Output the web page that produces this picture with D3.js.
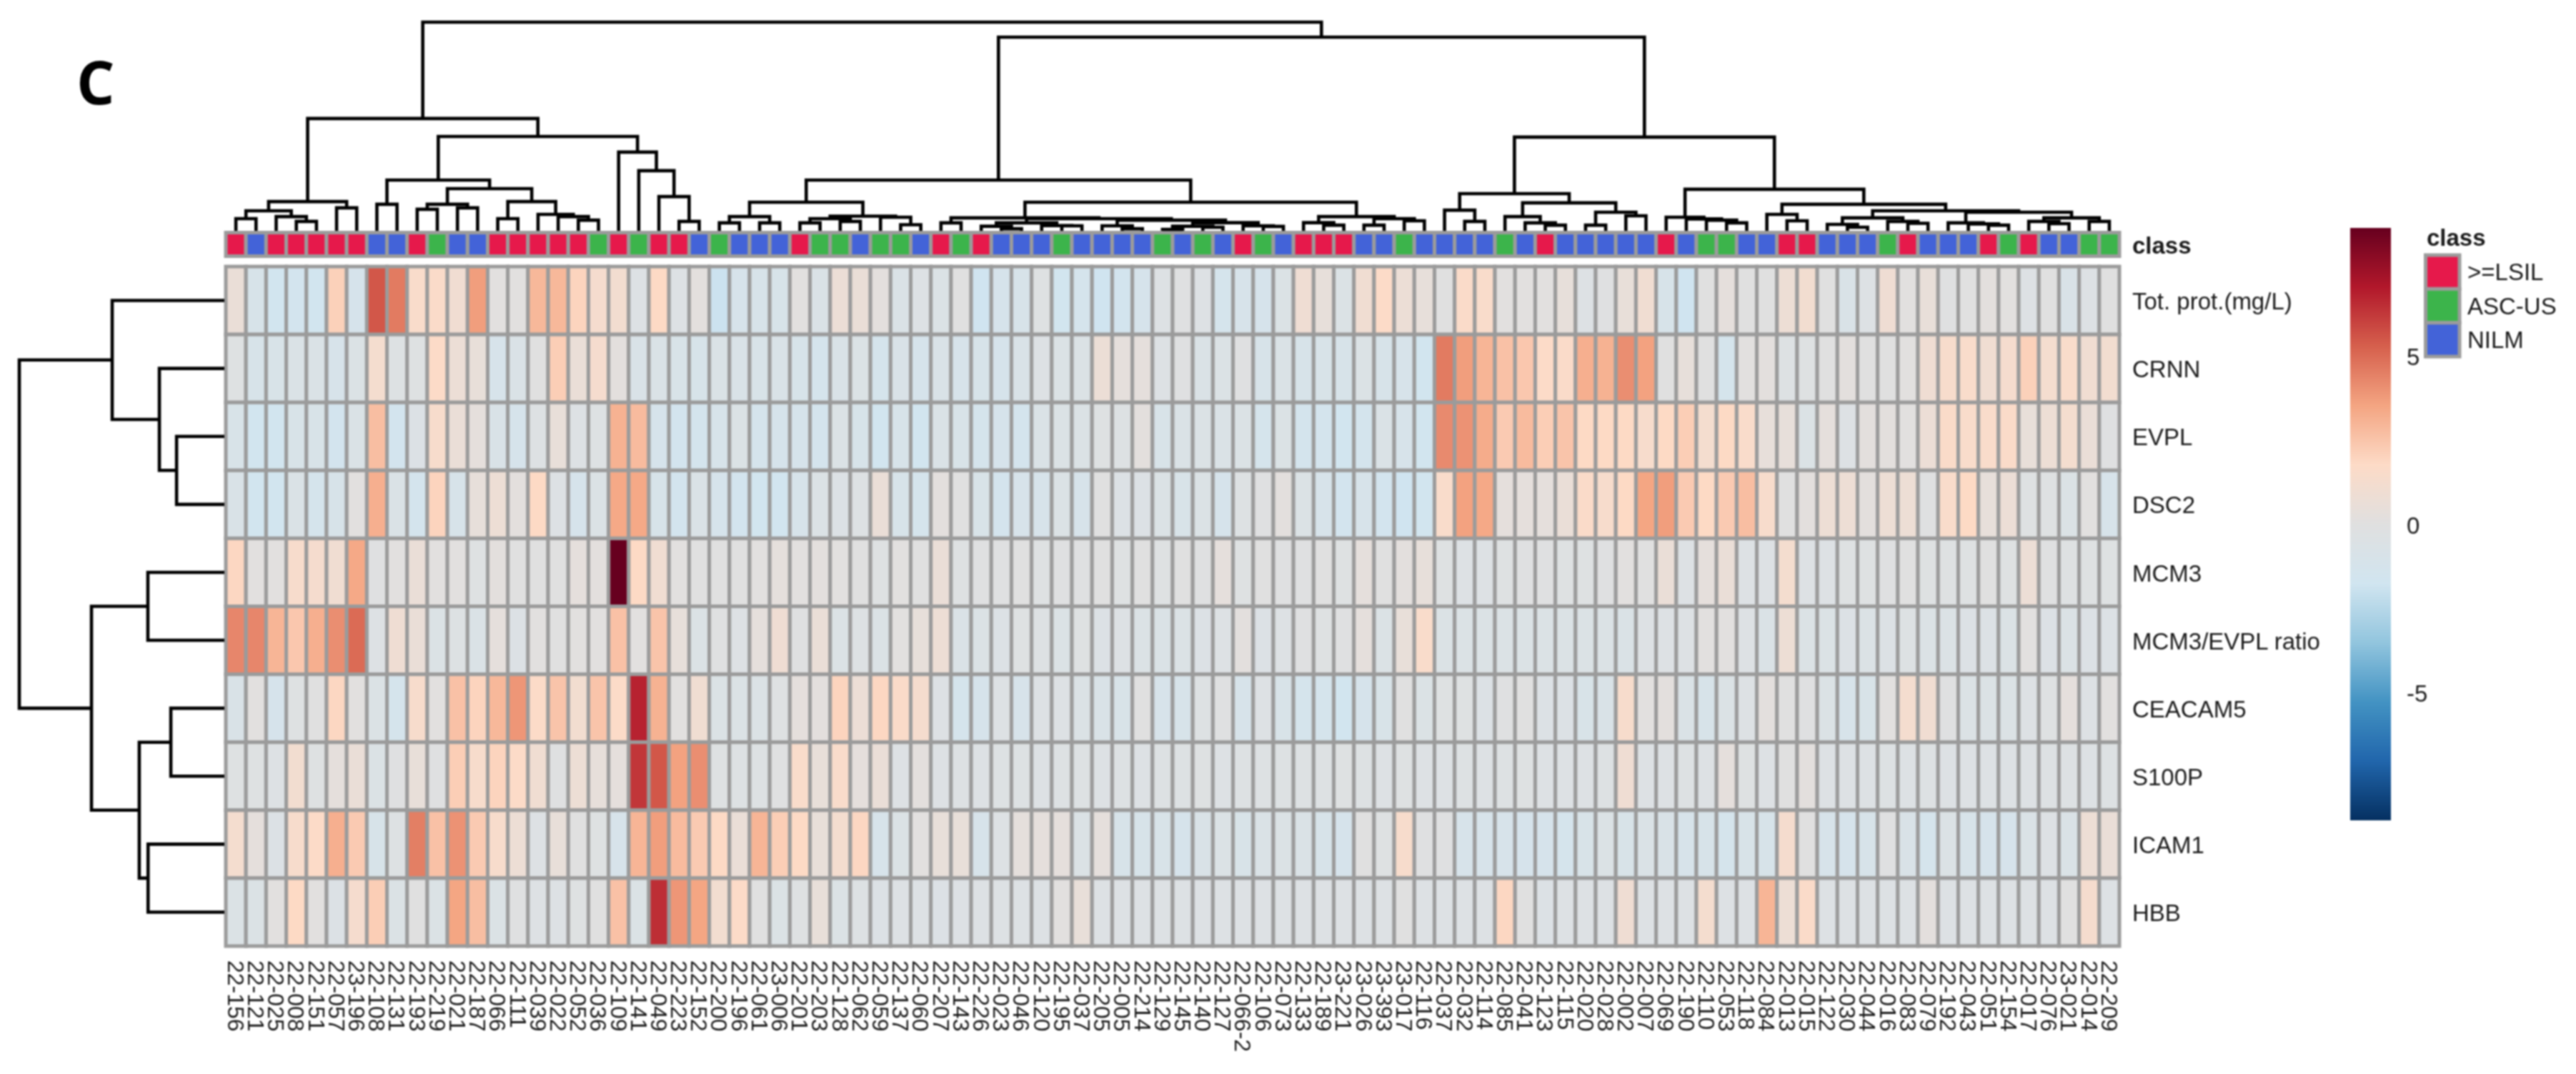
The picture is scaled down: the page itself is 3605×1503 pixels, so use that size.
<!DOCTYPE html>
<html><head><meta charset="utf-8">
<script src="https://cdn.jsdelivr.net/npm/d3@7/dist/d3.min.js"></script>
<style>
html,body{margin:0;padding:0;background:#fff}
svg{display:block;filter:blur(.8px)}
text{font-family:"Liberation Sans",Arial,sans-serif;fill:#1a1a1a}
</style></head><body>
<svg id="chart" width="3605" height="1503"></svg>
<script>
const samples=["22-156","22-121","22-025","22-008","22-151","22-057","23-196","22-108","22-131","22-193","22-219","22-021","22-187","22-066","22-111","22-039","22-022","22-052","22-036","22-109","22-141","22-049","22-223","22-152","22-200","22-196","22-061","23-006",
"22-201","22-203","22-128","22-062","22-059","22-137","22-060","22-207","22-143","22-226","22-023","22-046","22-120","22-195","22-037","22-205","22-005","22-214","22-129","22-145","22-140","22-127","22-066-2","22-106","22-073","22-133","22-189","23-221",
"23-026","23-393","23-017","22-116","22-037","22-032","22-114","22-085","22-041","22-123","22-115","22-020","22-028","22-002","22-007","22-069","22-190","22-110","22-053","22-118","22-084","22-013","22-015","22-122","22-030","22-044","22-016","22-083","22-079","22-192","22-043","22-051","22-154","22-017","22-076","23-021","22-014","22-209"];
const classes="LNLLLLLNNLANNLLLLLALALLNANNNLAANAANLALNNNANNNNANANLANLLLNNANNNNANLNNNNNLNAANNLLNNNALNNNLALNNAA".split("");
const classNames={L:">=LSIL",A:"ASC-US",N:"NILM"};
const classOrder=["L","A","N"];
const classColors={L:"#e6194b",A:"#3cb44b",N:"#4363d8"};
const proteins=["Tot. prot.(mg/L)","CRNN","EVPL","DSC2","MCM3","MCM3/EVPL ratio","CEACAM5","S100P","ICAM1","HBB"];
const palette=["#053061","#2166ac","#4393c3","#92c5de","#d1e5f0","#e0e0e0","#fddbc7","#f4a582","#d6604d","#b2182b","#67001f"];
const legendTicks=[5,0,-5];
const totProt=[.6,-1,-1.6,-1.5,-1.7,2.1,-1.2,5.5,4.6,1.5,1.6,1,3.7,.1,.1,2.9,2.9,2,1.3,1.1,-.4,1.8,-.4,.2,-1.9,-1.1,-1,-1,
.1,-.7,.7,.6,.2,-.7,-.4,-.6,0,-1.8,-1.2,-1,-.2,-1.7,-1.3,-1.8,-1.5,-1.2,-.4,-.1,-.4,-1.3,-1.1,-1.2,-.6,.9,.4,-.6,
1,1.7,.7,.4,0,1.6,1.5,.1,.1,.1,.4,-.4,-.1,.5,1,-1,-1.8,0,.3,0,0,.8,1.1,0,-.8,-.4,.9,.1,.5,-.1,0,.2,.1,-.4,0,-.8,-.4,0];
const crnn=[-.2,-1,-.9,-.7,-.7,-1.1,-.6,1.2,-.3,-.2,1.7,.7,.5,-1.1,-.7,0,2.2,.6,1.3,.2,-.8,-.7,-.9,-1,-.7,-.8,-.9,-.8,
-1,-1.3,-.8,-.6,-1.3,-.8,-1.2,-.8,-1.1,-1,-1.2,-.8,-.4,-.6,-.6,.7,.3,.3,-.4,-.1,-.7,-.6,-.1,-1,-.7,-1,-.9,-1,
-.6,-1,-1.1,-1.6,4.6,3.7,3,2.6,2.4,1.7,1.6,3.2,3.1,4.1,3.6,0,.4,0,-1.3,.1,.2,-.3,-.2,0,.2,0,0,.1,.9,1.4,1.5,1,1.3,2.1,1.2,1.5,1,1.1];
const evpl=[-.9,-1.7,-1.6,-.9,-.9,-1.5,-.7,2.7,-1.5,-.5,1.4,.6,.3,-.8,-1.2,-.3,.5,-.4,-.3,3.1,2.8,-1.2,-1.5,-1.4,-1.1,-.6,-1.3,-1.2,
-1.2,-1.4,-.6,-1,-1.6,-1,-1.6,-.7,-.9,-1.3,-1.2,-1.4,-.7,-.6,-.6,-.2,-.3,.2,-.9,-.7,-.6,-.7,-.6,-1.3,-.6,-1.4,-1.4,-1.6,
-1.4,-.7,-1.1,-1.6,4.2,4,3.3,2.3,2.8,2.2,2.5,1.8,1.8,1.8,1.4,1.8,2.2,1.2,1.8,1.5,.4,.4,-.6,.3,-.4,.2,.2,.1,.7,1.6,1.5,1.5,1.6,.5,.8,1.2,.6,-.1];
const dsc2=[-.8,-1.7,-1.6,-.7,-1.3,-1,.1,3.2,-.7,-1.4,2,-1,.4,.8,.2,1.8,-.4,-1.2,-.6,3.4,3.4,-1,-1.5,-.7,-1.2,-1.5,-1.6,-1.7,
-1.1,-.6,-.5,-.3,.6,-1,-1.3,.2,0,-.9,-1.4,-1.1,-1.1,-.6,-1.1,0,-.5,-.5,-.6,-.9,-.6,-1.2,-.3,-.1,.2,-.6,-1.1,-1.5,
-1.1,-1.5,-1.8,-1.7,1.5,3.6,3.4,.3,.3,.3,.6,1.6,1.4,1.8,3.5,3.7,2.3,1.8,2.3,2.7,1.4,0,.2,.8,.8,.2,.8,.8,-.1,1.5,1.8,.4,.7,-.2,-.2,-.6,.1,-1.1];
const mcm3=[1.9,.1,.1,1.4,1.3,1,3.4,-.1,.1,.6,.1,.1,-.2,.2,0,0,0,.3,.2,8.8,1.8,1,.1,0,0,0,.1,.3,
.1,.2,.1,0,-.2,.1,0,.6,-.2,-.1,-.1,0,-.2,-.1,-.1,0,-.2,0,-.2,0,-.1,.3,-.2,0,-.1,-.1,0,-.2,
.3,0,.2,.4,-.2,-.4,-.4,-.2,-.1,-.1,-.2,-.2,-.1,.1,0,.6,-.4,.3,.6,-.4,-.4,1.2,-.4,-.4,-.2,-.2,-.1,0,-.2,-.2,-.2,0,-.2,.7,-.1,-.2,-.2,-.2];
const ratio=[4.3,4.3,3,2.4,3.2,4.1,5,-.4,.9,.6,-.6,-.3,-.7,.3,-.5,.1,0,.1,.1,2.6,.1,2.5,.4,-.6,-.1,-.4,.3,.9,
-.1,.6,-.6,-.3,-.6,.1,.4,.8,-.7,-.6,-.5,-.2,-.3,-.6,-.2,-.5,-.4,-.6,-.7,-.6,-.5,-.4,.2,-.5,-.4,-.1,-.2,-.1,
.3,-.6,.5,1.5,-.6,-.6,-.6,-.6,-.6,-.6,-.6,-.6,-.6,-.7,-.4,-.4,-.4,.1,.1,-.4,-.7,.8,-.6,-.6,-.5,-.6,-.5,-.3,-.6,-.6,-.5,-.5,-.6,.1,-.5,-.6,-.5,-.5];
const ceacam5=[-.8,.1,-1.2,-.2,0,1.9,.1,-.6,-1.3,1.4,.1,2.6,2,2.9,3.9,1.7,2.5,1.1,2.5,1.7,6.8,3.1,.1,1,-.6,-.6,-.6,-.2,
.3,.2,2,.7,1.9,1.6,1.3,-.4,-1.3,-1.2,-.4,-1.1,-.4,-.4,-.6,-.8,-.9,0,-1.1,-1,-.3,-.1,-1.1,-.4,-.9,-1.3,-1.3,-1.6,
-1.2,-.9,0,-.6,-.2,-.2,-.5,-.1,0,-.5,-.5,-.9,-.8,1.4,.1,.2,-.7,-1,-.6,-.4,.2,0,-.1,-.6,-1.1,-.9,.1,1.2,1,-.1,-.6,-.6,-.6,-.4,-.2,.3,-.4,.1];
const s100p=[-.2,-.2,-.4,1.1,-.2,.3,.6,-.6,-.1,.5,-.1,2.2,1.4,2,1.7,1,-.1,.8,.4,.3,6.3,5.5,3.6,4.1,-.2,-.3,-.3,-.1,
1.5,.5,1.5,.3,.6,-.4,.2,-.4,-.3,-.4,-.3,-.3,-.4,-.3,-.3,-.4,-.3,-.4,-.3,-.3,-.2,-.4,-.3,-.3,-.3,-.3,-.3,-.2,
-.3,-.4,-.2,-.4,-.4,-.3,-.4,-.3,-.2,-.4,-.4,-.4,-.3,.9,-.4,-.4,-.3,-.4,.3,-.2,-.4,0,.2,-.4,-.4,-.4,-.3,-.4,-.3,-.4,-.4,-.4,-.4,-.4,-.3,-.3,-.4,-.3];
const icam1=[1.2,.3,-.5,1.4,1.7,3.2,2.3,-1,-.3,4.5,2.6,4,2.3,1.4,.8,-.4,.5,0,-.2,-1.1,3,3.7,2.8,2.3,1.8,.6,3,2.2,
1.8,.5,1.2,1.9,-1.1,-.6,.1,.5,.5,-1.1,-.4,.3,.3,.3,-.6,.3,-1,-1,-.9,-1.2,-.8,-.6,-.9,-.7,-.6,-.7,-1,-1.2,
0,-.2,1.4,-.1,-.1,-1.1,-1.1,-1.1,-1.2,-1.2,-1.3,-.9,-.6,-.9,-.7,-.8,-1.1,-1,-1.3,-.9,-1,1.3,0,-1.1,-1.2,-1,-.1,-.8,-1.3,-.6,-1,-1.2,-1.2,-.7,-.4,-.7,.8,.6];
const hbb=[-.6,-.6,.1,1.8,.1,-.5,1.3,2.2,-.6,0,-.6,3.5,2.7,-.6,-.1,-.4,-.4,-.2,0,2.6,-.6,6.5,3.9,3.5,1.1,1.7,0,-.6,
-.2,.5,-.6,-.3,-.5,-.4,-.4,-.5,-.4,-.4,-.4,-.4,-.4,.1,.5,-.4,-.4,-.4,-.4,-.4,-.4,-.4,-.4,-.4,-.4,-.4,-.4,-.4,
-.4,-.4,0,-.4,-.4,-.4,-.4,1.9,0,-.5,-.4,-.4,-.4,.9,-.4,-.4,-.4,1.2,-.4,-.4,3,.8,1.6,-.4,-.4,-.4,-.4,-.4,.2,-.4,-.4,-.4,-.4,-.4,-.4,0,1.3,-.4];
const matrix=[totProt,crnn,evpl,dsc2,mcm3,ratio,ceacam5,s100p,icam1,hbb];
const n=(h,a,b)=>[h,a,b];
const colTree=n(100,
 n(53.8,
  n(14,n(9.6,n(5.8,1,2),n(6.8,3,n(4.5,4,5))),n(11,6,7)),
  n(45.2,
   n(24.3,n(12.7,8,9),n(20.2,n(12.7,n(10.3,10,11),n(11,12,13)),n(14,n(5.8,14,15),n(7.9,16,n(6.8,17,n(5.1,18,19)))))),
   n(37.7,20,n(28.8,21,n(16.4,22,n(4.5,23,24)))))),
 n(92.8,
  n(24.3,
   n(13.7,n(6.8,n(3.8,25,26),n(3.8,27,28)),n(7,n(5.8,n(3.8,29,30),n(4.5,31,32)),n(6.5,33,n(2.9,34,35)))),
   n(13.7,
    n(6.2,n(3.8,36,37),n(5.8,
      n(3.8,n(2.2,38,n(1,39,40)),n(2.5,41,n(2.4,42,43))),
      n(5.1,n(2.4,44,n(1,45,46)),n(3.9,n(2.2,n(.7,47,48),n(1.7,49,50)),n(2.4,51,n(2.1,52,53)))))),
    n(6.8,n(3.9,54,n(2.7,55,56)),n(5.8,n(2.7,57,58),n(4.8,59,60))))),
  n(44.9,
   n(17.8,n(9.9,61,n(4.5,62,63)),n(13.4,n(6.8,64,n(3.8,65,n(2.7,66,67))),n(8.9,n(2.7,68,69),n(7.2,70,71)))),
   n(19.9,
    n(6.5,72,n(5.7,73,n(5.1,74,n(3.8,75,76)))),
    n(12.7,n(7.9,77,n(4.8,78,79)),
     n(9.6,n(6.2,n(3.1,80,n(1.7,81,82)),n(4.5,83,n(3.6,84,85))),
      n(8.9,n(3.8,86,n(3.3,87,n(2.7,88,89))),n(6.2,n(4.5,90,n(3.4,91,92)),n(4.5,93,94)))))))));
const rowTree=n(100,
 n(54.7,1,n(31.7,2,n(23.3,3,4))),
 n(64.8,n(37.3,5,6),n(41.5,n(26.1,7,8),n(37.2,9,10))));

const svg=d3.select("#chart");
const heatLeft=316,heatRight=2966,heatTop=373,heatBottom=1324,gridColor="#9b9b9b",gridWidth=5;
const x=d3.scaleBand().domain(d3.range(samples.length)).range([heatLeft,heatRight]);
const y=d3.scaleBand().domain(d3.range(proteins.length)).range([heatTop,heatBottom]);
const color=d3.scaleLinear().domain(palette.map((_,i)=>-8.8+i*1.76)).range(palette).clamp(true);

// panel letter
svg.append("text").attr("x",107).attr("y",146).attr("font-size",84).attr("font-weight",700).style("font-family","'Open Sans'").style("fill","#000").text("C");

// heat cells
matrix.forEach((vals,r)=>{
  svg.append("g").selectAll("rect").data(vals).join("rect")
    .attr("x",(_,i)=>x(i)).attr("y",y(r)).attr("width",x.bandwidth()).attr("height",y.bandwidth())
    .attr("fill",v=>color(v)).attr("stroke",gridColor).attr("stroke-width",gridWidth);
});

// class strip
svg.append("g").selectAll("rect").data(classes).join("rect")
  .attr("x",(_,i)=>x(i)).attr("y",325.5).attr("width",x.bandwidth()).attr("height",33)
  .attr("fill",c=>classColors[c]).attr("stroke",gridColor).attr("stroke-width",gridWidth);

// dendrograms
function layout(node,pos,out){
  if(typeof node==="number") return {p:pos(node),h:0};
  const a=layout(node[1],pos,out),b=layout(node[2],pos,out);
  out.push({a,b,h:node[0]});
  return {p:(a.p+b.p)/2,h:node[0]};
}
const colH=d3.scaleLinear().domain([0,100]).range([323,31]);
const colSegs=[];layout(colTree,k=>x(k-1)+x.bandwidth()/2,colSegs);
svg.append("g").selectAll("path").data(colSegs).join("path")
  .attr("fill","none").attr("stroke","#000").attr("stroke-width",4.6).attr("stroke-linejoin","miter")
  .attr("d",s=>`M${s.a.p},${colH(s.a.h)}V${colH(s.h)}H${s.b.p}V${colH(s.b.h)}`);
const rowH=d3.scaleLinear().domain([0,100]).range([314,27]);
const rowSegs=[];layout(rowTree,k=>y(k-1)+y.bandwidth()/2,rowSegs);
svg.append("g").selectAll("path").data(rowSegs).join("path")
  .attr("fill","none").attr("stroke","#000").attr("stroke-width",4.6)
  .attr("d",s=>`M${rowH(s.a.h)},${s.a.p}H${rowH(s.h)}V${s.b.p}H${rowH(s.b.h)}`);

// axes
const fs=33;
const bottom=svg.append("g").attr("transform","translate(0,1338)")
  .call(d3.axisBottom(x).tickSize(0).tickPadding(0).tickFormat(i=>samples[i]));
bottom.select(".domain").remove();
bottom.selectAll("text").attr("font-size",32).attr("text-anchor","start").attr("dy",".35em")
  .attr("transform","translate(0,6) rotate(90)").attr("y",0).attr("x",0);
const right=svg.append("g").attr("transform",`translate(${heatRight-2},2)`)
  .call(d3.axisRight(y).tickSize(0).tickPadding(20).tickFormat(i=>proteins[i]));
right.select(".domain").remove();
right.selectAll("text").attr("font-size",fs);
svg.append("text").attr("x",2984).attr("y",343).attr("dy",".35em").attr("font-size",fs).attr("font-weight",700).text("class");

// colour bar
const barTop=319,barBottom=1148,barLeft=3289,barRight=3346;
const barY=d3.scaleLinear().domain([8.8,-8.8]).range([barTop,barBottom]);
const grad=svg.append("defs").append("linearGradient").attr("id","bar").attr("x1",0).attr("x2",0).attr("y1",0).attr("y2",1);
palette.slice().reverse().forEach((c,i)=>grad.append("stop").attr("offset",i/10).attr("stop-color",c));
svg.append("rect").attr("x",barLeft).attr("y",barTop).attr("width",barRight-barLeft).attr("height",barBottom-barTop).attr("fill","url(#bar)");
const barAxis=svg.append("g").attr("transform",`translate(${barRight},2)`)
  .call(d3.axisRight(barY).tickValues(legendTicks).tickSize(0).tickPadding(22).tickFormat(String));
barAxis.select(".domain").remove();
barAxis.selectAll("text").attr("font-size",fs);

// class legend
svg.append("text").attr("x",3396).attr("y",332).attr("dy",".35em").attr("font-size",fs).attr("font-weight",700).text("class");
const leg=d3.scaleBand().domain(classOrder).range([357,499]);
svg.append("g").selectAll("rect").data(classOrder).join("rect")
  .attr("x",3394.5).attr("y",c=>leg(c)).attr("width",47.5).attr("height",leg.bandwidth())
  .attr("fill",c=>classColors[c]).attr("stroke",gridColor).attr("stroke-width",gridWidth);
svg.append("g").selectAll("text").data(classOrder).join("text")
  .attr("x",3453).attr("y",c=>leg(c)+leg.bandwidth()/2).attr("dy",".35em").attr("font-size",fs).text(c=>classNames[c]);
</script>
</body></html>
